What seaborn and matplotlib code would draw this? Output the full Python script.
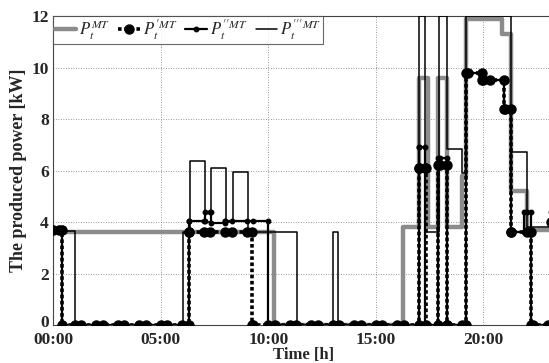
import numpy as np
import matplotlib
matplotlib.use("Agg")
import matplotlib.pyplot as plt
import matplotlib.transforms as mtransforms
import seaborn as sns

# change points [h] and power levels [kW] of each step profile
t_mt = [0, 10.25, 16.25, 17.0, 17.4, 17.9, 18.3, 19.0, 19.2, 20.85, 21.3, 22.0]
p_mt = [3.6, 0, 3.8, 9.6, 3.8, 9.6, 3.8, 5.8, 11.9, 11.3, 5.2, 3.7]

t_p1 = [0, 0.4, 6.3, 9.25, 17.0, 17.35, 17.9, 18.3, 19.2, 19.95, 20.95, 21.3, 22.2, 23.15]
p_p1 = [3.7, 0, 3.6, 0, 6.1, 0, 6.2, 0, 9.8, 9.5, 8.4, 3.6, 0, 4.0]

t_p2 = [0, 0.4, 6.3, 7.05, 7.35, 8.0, 10.0, 17.0, 17.3, 17.9, 18.3, 19.2, 19.95,
        20.95, 21.3, 21.9, 22.2, 23.15]
p_p2 = [3.75, 0, 4.05, 4.4, 3.95, 4.05, 0, 6.9, 0, 6.5, 0, 9.8, 9.5, 8.4, 3.6, 4.4, 0, 4.4]

t_p3 = [0, 1.0, 6.05, 6.35, 7.05, 7.35, 8.05, 8.35, 9.05, 11.35, 13.0, 13.25, 17.0,
        17.3, 17.95, 18.3, 19.0, 19.2, 21.3, 22.0]
p_p3 = [3.65, 0, 3.6, 6.35, 4.0, 6.1, 4.0, 5.95, 3.6, 0, 3.6, 0, 12, 3.6, 12, 6.85,
        5.9, 12, 6.7, 3.8]

tick_hours = [0, 5, 10, 15, 20]
tick_labels = ["00:00", "05:00", "10:00", "15:00", "20:00"]
T_END = 23.3


def extend(tb, vb):
    # repeat last level up to the right edge so steps-post draws it
    return list(tb) + [T_END], list(vb) + [vb[-1]]


def marker_points(tb, vb):
    tb = np.asarray(tb, float)
    vb = np.asarray(vb, float)
    tq = np.concatenate([np.arange(0, T_END, 1.0), np.arange(0.3, T_END, 1.0)])
    idx = np.searchsorted(tb, tq, side="right") - 1
    xs = list(tq)
    ys = list(vb[idx])
    # corners of each step
    xs += list(tb[1:]) + list(tb[1:])
    ys += list(vb[:-1]) + list(vb[1:])
    return xs, ys


sns.set_style("white")
plt.rcParams["font.family"] = ["Liberation Serif", "DejaVu Serif"]
plt.rcParams["mathtext.fontset"] = "stix"

fig = plt.figure(figsize=(5.49, 3.63), dpi=100)
ax = fig.add_axes([53 / 549, 1 - 325 / 363, 1 - 53 / 549 + 0.01, (325 - 16) / 363])

x, y = extend(t_mt, p_mt)
sns.lineplot(x=x, y=y, ax=ax, drawstyle="steps-post", color="#8c8c8c", lw=3.2,
             zorder=2, label=r"$P_t^{MT}$")

x, y = extend(t_p3, p_p3)
sns.lineplot(x=x, y=y, ax=ax, drawstyle="steps-post", color="black", lw=1.1,
             zorder=3, label=r"$P_t^{\prime\prime\prime MT}$")

x, y = extend(t_p2, p_p2)
sns.lineplot(x=x, y=y, ax=ax, drawstyle="steps-post", color="black", lw=1.6,
             zorder=4, label=r"$P_t^{\prime\prime MT}$")
mx, my = marker_points(t_p2, p_p2)
ax.plot(mx, my, ls="none", marker="o", ms=3.2, color="black", zorder=4)

x, y = extend(t_p1, p_p1)
sns.lineplot(x=x, y=y, ax=ax, drawstyle="steps-post", color="black", lw=2.6,
             ls=(0, (1.0, 0.7)), zorder=5, label=r"$P_t^{\prime MT}$")
mx, my = marker_points(t_p1, p_p1)
ax.plot(mx, my, ls="none", marker="o", ms=6.5, color="black", zorder=5)

ax.set_xlim(0, T_END)
ax.set_ylim(0, 12)
ax.set_xticks(tick_hours)
ax.set_xticklabels(tick_labels)
ax.set_yticks(range(0, 13, 2))
ax.tick_params(axis="both", labelsize=12.5, length=0)
ax.tick_params(axis="x", pad=5)
ax.tick_params(axis="y", pad=3)
for lab in ax.get_xticklabels() + ax.get_yticklabels():
    lab.set_fontweight("bold")
# nudge the "0" label up a little so it clears "00:00"
zero_lab = ax.get_yticklabels()[0]
zero_lab.set_transform(zero_lab.get_transform()
                       + mtransforms.ScaledTranslation(0, 3 / 72, fig.dpi_scale_trans))
ax.grid(True, ls=(0, (1, 2)), color="#777777", lw=0.6)
for s in ax.spines.values():
    s.set_color("#444444")
    s.set_linewidth(0.8)

ax.set_xlabel("Time [h]", fontsize=12, fontweight="bold", labelpad=-0.5)
ax.set_ylabel("The produced power [kW]", fontsize=13, fontweight="bold", labelpad=3)

# legend in the original order
h, l = ax.get_legend_handles_labels()
order = [0, 3, 2, 1]
h = [h[i] for i in order]
l = [l[i] for i in order]
h[1] = plt.Line2D([], [], color="black", lw=2.6, ls=(0, (1.0, 0.7)), marker="o", ms=6.5)
h[2] = plt.Line2D([], [], color="black", lw=1.6, marker="o", ms=3.2)
leg = ax.legend(h, l, loc="upper left", ncol=4, fontsize=12, frameon=True,
                fancybox=False, borderaxespad=0, handlelength=1.3, handletextpad=0.15,
                columnspacing=0.5, borderpad=0.1, labelspacing=0.1)
leg.get_frame().set_edgecolor("#444444")
leg.get_frame().set_linewidth(0.8)
leg.set_zorder(10)

fig.savefig("out.png", dpi=100)
